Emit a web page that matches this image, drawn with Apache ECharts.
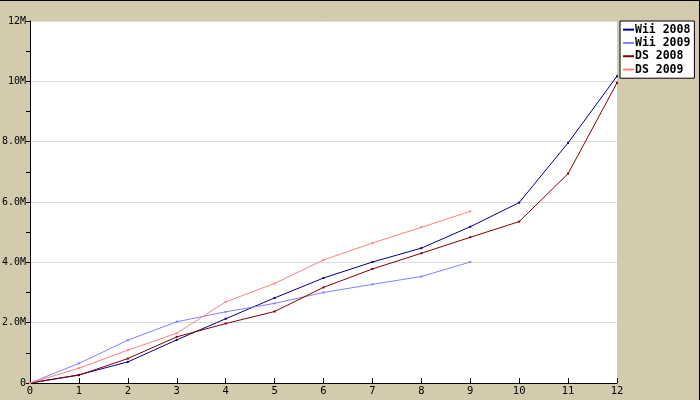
<!DOCTYPE html>
<html><head><meta charset="utf-8">
<script src="https://cdn.jsdelivr.net/npm/echarts@6/dist/echarts.min.js"></script>
<style>html,body{margin:0;padding:0;background:#d4cbaf}#c{width:700px;height:400px;box-sizing:border-box;border-top:1px solid #000;border-right:1px solid #000}</style>
</head><body><div id="c"></div>
<script>
const weeks = [0,1,2,3,4,5,6,7,8,9,10,11,12];
const wii2008 = [0,0.27,0.70,1.43,2.13,2.82,3.48,4.01,4.47,5.18,5.98,7.96,10.17];
const wii2009 = [0,0.65,1.42,2.03,2.36,2.64,3.00,3.27,3.53,4.01];
const ds2008 = [0,0.26,0.81,1.53,1.97,2.37,3.17,3.78,4.30,4.83,5.35,6.94,9.95];
const ds2009 = [0,0.49,1.09,1.65,2.69,3.30,4.08,4.64,5.16,5.69];
const seriesNames = ['Wii 2008','Wii 2009','DS 2008','DS 2009'];
const colors = ['#000080','#8080ff','#800000','#ff8080'];
const yTickLabels = {0:'0',2:'2.0M',4:'4.0M',6:'6.0M',8:'8.0M',10:'10M',12:'12M'};

const font = '"DejaVu Sans Mono", monospace';
const mk = (name, vals, i) => ({
  name, type:'line', data: vals.map((v,k)=>[weeks[k], v*1e6]),
  showSymbol:true, symbol:'rect', symbolSize:2, color: colors[i],
  lineStyle:{width:1,color:colors[i]}, itemStyle:{color:colors[i]},
  emphasis:{disabled:true}, animation:false
});
const chart = echarts.init(document.getElementById('c'), null, {renderer:'canvas'});
chart.setOption({
  backgroundColor:'#d4cbaf',
  animation:false,
  grid:{left:30, right:82, top:20, bottom:17, show:true, backgroundColor:'#fff', borderWidth:0, containLabel:false, outerBoundsMode:'none'},
  xAxis:{type:'value', min:0, max:12, interval:1,
    axisLine:{lineStyle:{color:'#000',width:1}},
    axisTick:{inside:true,length:5,lineStyle:{color:'#000'}},
    axisLabel:{color:'#000', fontFamily:font, fontSize:10.5, margin:3},
    splitLine:{show:false}},
  yAxis:{type:'value', min:0, max:12e6, interval:2e6,
    axisLine:{show:true,lineStyle:{color:'#000',width:1}},
    axisTick:{show:true,length:4,lineStyle:{color:'#000'}},
    minorTick:{show:true,splitNumber:2,length:4,lineStyle:{color:'#000'}},
    axisLabel:{color:'#000', fontFamily:font, fontSize:10, margin:4,
      formatter:v=>yTickLabels[Math.round(v/1e6)] ?? ''},
    splitLine:{show:true,lineStyle:{color:'#dcdcdc',width:1}}},
  legend:{orient:'vertical', left:620, top:20, data:seriesNames.map(n=>({name:n,icon:'rect'})),
    backgroundColor:'#fff', borderColor:'#000', borderWidth:1, padding:[2,4,2,3],
    itemWidth:11, itemHeight:2, itemGap:0, selectedMode:false,
    textStyle:{fontFamily:font, fontSize:11.5, fontWeight:'bold', color:'#000', lineHeight:13.3, padding:[0,0,0,-4]}},
  series:[mk('Wii 2008',wii2008,0), mk('Wii 2009',wii2009,1), mk('DS 2008',ds2008,2), mk('DS 2009',ds2009,3)]
});
</script></body></html>
